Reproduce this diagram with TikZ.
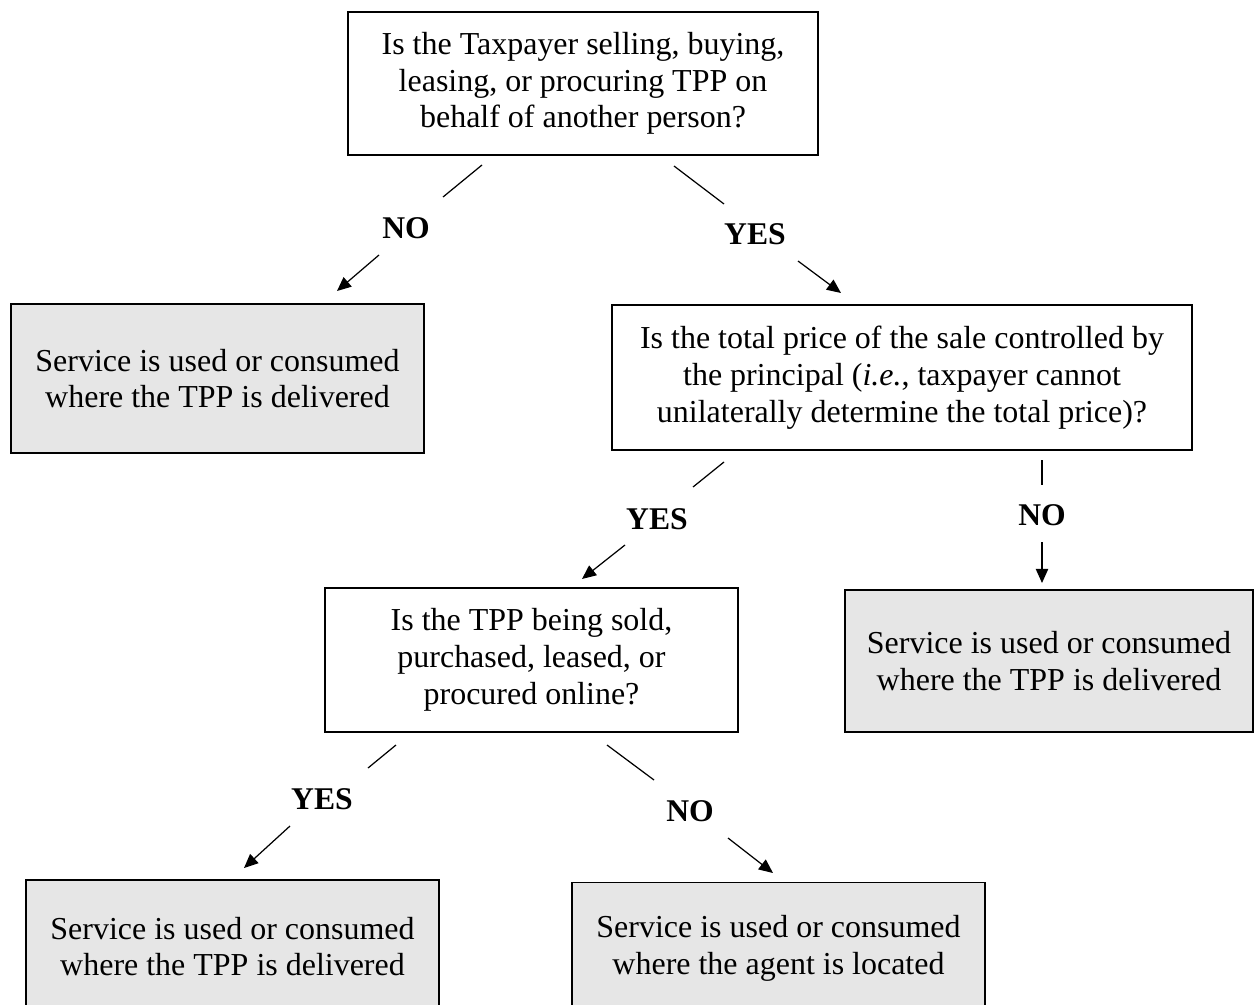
\documentclass[tikz,border=0pt]{standalone}
\usepackage{fontspec}
\setmainfont{Liberation Serif}
\usetikzlibrary{arrows.meta}
\definecolor{boxgray}{RGB}{230,230,230}
\begin{document}
\begin{tikzpicture}[x=0.02cm,y=-0.02cm,
  box/.style={draw, line width=0.7pt, align=center, inner sep=0pt,
              font=\fontsize{18.2}{20.9}\selectfont},
  qbox/.style={box, fill=white},
  rbox/.style={box, fill=boxgray},
  lbl/.style={font=\bfseries\fontsize{18}{20}\selectfont, inner sep=0pt},
  seg/.style={line width=0.7pt},
  arr/.style={line width=0.7pt, -{Triangle[length=8pt,width=7pt]}}]
\useasboundingbox (0,0) rectangle (1254,1004);

% boxes
\node[qbox, minimum width=9.4cm, minimum height=2.86cm] (q1) at (583,83.5)
  {\raisebox{-2pt}{}Is the Taxpayer selling, buying,\\leasing, or procuring TPP on\\behalf of another person?};
\node[rbox, minimum width=8.26cm, minimum height=2.98cm] (r1) at (217.5,378.5)
  {Service is used or consumed\\where the TPP is delivered};
\node[qbox, minimum width=11.6cm, minimum height=2.9cm] (q2) at (902,377.5)
  {Is the total price of the sale controlled by\\the principal (\textit{i.e.}, taxpayer cannot\\unilaterally determine the total price)?};
\node[rbox, minimum width=8.16cm, minimum height=2.84cm] (r2) at (1049,661)
  {Service is used or consumed\\where the TPP is delivered};
\node[qbox, minimum width=8.26cm, minimum height=2.88cm] (q3) at (531.5,660)
  {Is the TPP being sold,\\purchased, leased, or\\procured online?};
\node[rbox, minimum width=8.26cm, minimum height=2.66cm] (r3) at (232.5,946.5)
  {Service is used or consumed\\where the TPP is delivered};
\node[rbox, minimum width=8.26cm, minimum height=2.64cm] (r4) at (778.5,948.5)
  {Service is used or consumed\\where the agent is located};

% connector 1: q1 -> r1 (NO)
\coordinate (a1) at (482,165); \coordinate (a2) at (443,197);
\node[lbl] (no1) at (406,228) {NO};
\coordinate (a3) at (379,255); \coordinate (a4) at (337,291);
\draw[seg] (a1) -- (a2); \draw[arr] (a3) -- (a4);

% connector 2: q1 -> q2 (YES)
\coordinate (b1) at (674,166); \coordinate (b2) at (724,204);
\node[lbl] (yes1) at (755,234) {YES};
\coordinate (b3) at (798,261); \coordinate (b4) at (841,293);
\draw[seg] (b1) -- (b2); \draw[arr] (b3) -- (b4);

% connector 3: q2 -> q3 (YES)
\coordinate (c1) at (724,462); \coordinate (c2) at (693,487);
\node[lbl] (yes2) at (657,519) {YES};
\coordinate (c3) at (625,545); \coordinate (c4) at (582,579);
\draw[seg] (c1) -- (c2); \draw[arr] (c3) -- (c4);

% connector 4: q2 -> r2 (NO)
\coordinate (d1) at (1042,460); \coordinate (d2) at (1042,485);
\node[lbl] (no2) at (1042,515) {NO};
\coordinate (d3) at (1042,542); \coordinate (d4) at (1042,583);
\draw[seg] (d1) -- (d2); \draw[arr] (d3) -- (d4);

% connector 5: q3 -> r3 (YES)
\coordinate (e1) at (396,745); \coordinate (e2) at (368,768);
\node[lbl] (yes3) at (322,799) {YES};
\coordinate (e3) at (290,826); \coordinate (e4) at (244,868);
\draw[seg] (e1) -- (e2); \draw[arr] (e3) -- (e4);

% connector 6: q3 -> r4 (NO)
\coordinate (f1) at (607,745); \coordinate (f2) at (654,780);
\node[lbl] (no3) at (690,811) {NO};
\coordinate (f3) at (728,838); \coordinate (f4) at (773,873);
\draw[seg] (f1) -- (f2); \draw[arr] (f3) -- (f4);
\end{tikzpicture}
\end{document}
